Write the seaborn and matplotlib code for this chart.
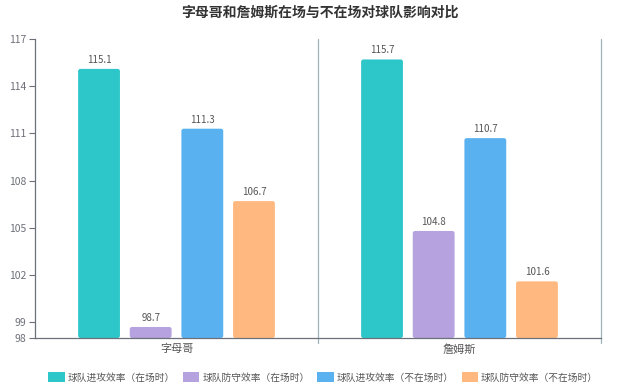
import pandas as pd
import matplotlib.pyplot as plt
from matplotlib.patches import FancyBboxPatch, Patch
import seaborn as sns

# data
players = ['字母哥', '詹姆斯']
series_names = ['球队进攻效率（在场时）', '球队防守效率（在场时）',
                '球队进攻效率（不在场时）', '球队防守效率（不在场时）']
off_on = [115.1, 115.7]
def_on = [98.7, 104.8]
off_off = [111.3, 110.7]
def_off = [106.7, 101.6]
yticks = [98, 99, 102, 105, 108, 111, 114, 117]

colors = ['#2ec7c9', '#b6a2de', '#5ab1ef', '#ffb980']

rows = []
for name, vals in zip(series_names, [off_on, def_on, off_off, def_off]):
    for p, v in zip(players, vals):
        rows.append({'player': p, 'series': name, 'value': v})
df = pd.DataFrame(rows)

sns.set_style('white')
plt.rcParams['font.family'] = ['Noto Sans CJK SC', 'DejaVu Sans']

fig = plt.figure(figsize=(6.4, 3.91), dpi=100)
ax = fig.add_axes([35/640, 1 - 338/391, 566/640, 299/391])

sns.barplot(data=df, x='player', y='value', hue='series', palette=colors,
            saturation=1, width=0.73, gap=0.19, ax=ax, legend=False)

# value labels
for cont in ax.containers:
    ax.bar_label(cont, fmt='%.1f', padding=3, fontsize=7, color='#555555')

# swap plain bars for bars with rounded corners
ymin = 98
aspect = (283 / 15.74)
old = list(ax.patches)
for p in old:
    x, w, h = p.get_x(), p.get_width(), p.get_height()
    rb = FancyBboxPatch((x, ymin), w, h - ymin,
                        boxstyle='round,pad=0,rounding_size=0.008',
                        mutation_aspect=aspect,
                        facecolor=p.get_facecolor(), edgecolor='none')
    p.remove()
    ax.add_patch(rb)

ax.set_xlim(-0.5, 1.5)
ax.set_ylim(98, 117)
ax.set_yticks(yticks)
ax.set_xlabel('')
ax.set_ylabel('')

# category separators (echarts style)
for xb in [0.5, 1.5]:
    ax.plot([xb, xb], [97.7, 117], color='#9fb3bd', lw=0.9, clip_on=False, zorder=0)

for s in ['top', 'right']:
    ax.spines[s].set_visible(False)
ax.spines['left'].set_color('#6e7079')
ax.spines['bottom'].set_color('#6e7079')
ax.spines['left'].set_linewidth(0.9)
ax.spines['bottom'].set_linewidth(0.9)
ax.tick_params(axis='y', length=4, width=0.8, color='#6e7079', labelsize=7.5,
               labelcolor='#6e7079', pad=2, left=True)
ax.tick_params(axis='x', length=0, labelsize=8, labelcolor='#555555', pad=4)

fig.suptitle('字母哥和詹姆斯在场与不在场对球队影响对比', y=0.985,
             fontsize=10, fontweight='bold', color='#333333')

handles = [Patch(facecolor=c, edgecolor='none') for c in colors]
fig.legend(handles, series_names, loc='center', bbox_to_anchor=(0.505, 0.035),
           ncol=4, frameon=False, fontsize=7, handlelength=1.7, handleheight=1.2,
           columnspacing=0.8, handletextpad=0.3, labelcolor='#555555')

fig.savefig('out.png', dpi=100)
